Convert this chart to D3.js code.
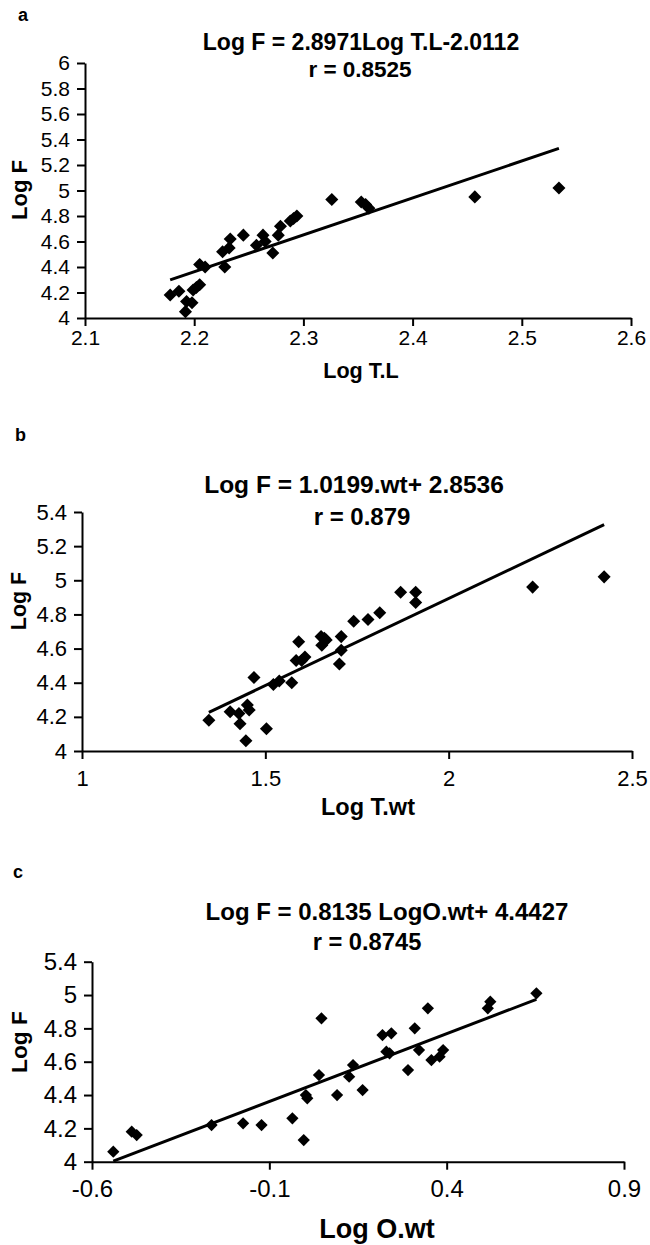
<!DOCTYPE html>
<html>
<head>
<meta charset="utf-8">
<script src="https://cdn.jsdelivr.net/npm/d3@7"></script>
<style>
  body { margin: 0; background: #fff; }
  svg { display: block; font-family: "Liberation Sans", Arial, sans-serif; }
</style>
</head>
<body>
<svg id="chart" width="650" height="1245"></svg>
<script>
// ---------- DATA ----------
// a: Log T.L vs Log F
const aLogTL = [2.178, 2.186, 2.193, 2.192, 2.198, 2.199, 2.202, 2.205, 2.205, 2.21,
                2.228, 2.226, 2.232, 2.233, 2.245, 2.257, 2.263, 2.265, 2.272, 2.277,
                2.279, 2.288, 2.291, 2.294, 2.326, 2.353, 2.357, 2.360, 2.457, 2.534];
const aLogF  = [4.18, 4.21, 4.13, 4.05, 4.12, 4.22, 4.24, 4.26, 4.42, 4.40,
                4.40, 4.52, 4.55, 4.62, 4.65, 4.57, 4.65, 4.60, 4.51, 4.65,
                4.72, 4.76, 4.78, 4.80, 4.93, 4.91, 4.89, 4.86, 4.95, 5.02];

// b: Log T.wt vs Log F
const bLogTwt = [1.346, 1.404, 1.428, 1.431, 1.447, 1.451, 1.456, 1.469, 1.503, 1.522,
                 1.538, 1.572, 1.584, 1.591, 1.599, 1.608, 1.652, 1.654, 1.666, 1.661,
                 1.707, 1.707, 1.702, 1.741, 1.780, 1.812, 1.869, 1.910, 1.910, 2.229, 2.424];
const bLogF   = [4.18, 4.23, 4.22, 4.16, 4.06, 4.27, 4.24, 4.43, 4.13, 4.39,
                 4.41, 4.40, 4.53, 4.64, 4.53, 4.55, 4.67, 4.62, 4.65, 4.66,
                 4.67, 4.59, 4.51, 4.76, 4.77, 4.81, 4.93, 4.93, 4.87, 4.96, 5.02];

// c: Log O.wt vs Log F
const cLogOwt = [-0.540, -0.488, -0.474, -0.263, -0.174, -0.122, -0.035, -0.003, 0.003, 0.007,
                 0.040, 0.047, 0.091, 0.125, 0.136, 0.163, 0.219, 0.244, 0.230, 0.239,
                 0.291, 0.310, 0.322, 0.347, 0.357, 0.380, 0.390, 0.516, 0.523, 0.653];
const cLogF   = [4.06, 4.18, 4.16, 4.22, 4.23, 4.22, 4.26, 4.13, 4.40, 4.38,
                 4.52, 4.86, 4.40, 4.51, 4.58, 4.43, 4.76, 4.77, 4.66, 4.65,
                 4.55, 4.80, 4.67, 4.92, 4.61, 4.63, 4.67, 4.92, 4.96, 5.01];

// fitted lines: Log F = slope * x + intercept
const fitSlope     = [2.8971, 1.0199, 0.8135];
const fitIntercept = [-2.0112, 2.8536, 4.4427];

const panelTags   = ["a", "b", "c"];
const equations   = ["Log F = 2.8971Log T.L-2.0112", "Log F = 1.0199.wt+ 2.8536", "Log F = 0.8135 LogO.wt+ 4.4427"];
const rValues     = ["r = 0.8525", "r = 0.879", "r = 0.8745"];
const xTitles     = ["Log T.L", "Log T.wt", "Log O.wt"];
const yTitle      = "Log F";

// ticks
const aXTicks = [2.1, 2.2, 2.3, 2.4, 2.5, 2.6];
const aYTicks = [4, 4.2, 4.4, 4.6, 4.8, 5, 5.2, 5.4, 5.6, 5.8, 6];
const bXTicks = [1, 1.5, 2, 2.5];
const bYTicks = [4, 4.2, 4.4, 4.6, 4.8, 5, 5.2, 5.4];
const cXTicks = [-0.6, -0.1, 0.4, 0.9];
const cYTicks = [4, 4.2, 4.4, 4.6, 4.8, 5, 5.2];
const cYTickLabels = ["4", "4.2", "4.4", "4.6", "4.8", "5", "5.4"];

// ---------- LAYOUT ----------
const panels = [
  { xs: aLogTL, ys: aLogF, xDomain: [2.1, 2.6], yDomain: [4, 6],
    xRange: [85, 631], yRange: [318, 63],
    xTicks: aXTicks, yTicks: aYTicks, yLabels: aYTicks.map(String),
    tickFont: 21, xPad: 4, marker: 85,
    tag: [18, 21], eq: [361, 50, 23], r: [360, 77, 22.5],
    xTitle: [361, 378, 21.6], yTitle: [27, 190, 22] },
  { xs: bLogTwt, ys: bLogF, xDomain: [1, 2.5], yDomain: [4, 5.4],
    xRange: [82, 632], yRange: [751, 512],
    xTicks: bXTicks, yTicks: bYTicks, yLabels: bYTicks.map(String),
    tickFont: 22, xPad: 11, marker: 85,
    tag: [15, 441], eq: [354, 493, 24.5], r: [362, 525, 24],
    xTitle: [368, 815, 23.5], yTitle: [26, 601, 21.5] },
  { xs: cLogOwt, ys: cLogF, xDomain: [-0.6, 0.9], yDomain: [4, 5.2],
    xRange: [92, 624], yRange: [1161.7, 961.7],
    xTicks: cXTicks, yTicks: cYTicks, yLabels: cYTickLabels,
    tickFont: 24, xPad: 10, marker: 75,
    tag: [13, 878], eq: [387, 920, 24], r: [367, 950, 23.7],
    xTitle: [377, 1238, 27], yTitle: [27, 1042, 22.7] }
];

const svg = d3.select("#chart");

panels.forEach((p, i) => {
  const g = svg.append("g");

  const x = d3.scaleLinear().domain(p.xDomain).range(p.xRange);
  const y = d3.scaleLinear().domain(p.yDomain).range(p.yRange);

  // ---------- AXES ----------
  const xAxis = d3.axisBottom(x)
    .tickValues(p.xTicks)
    .tickFormat(String)
    .tickSize(8)
    .tickSizeOuter(0)
    .tickPadding(p.xPad);

  const yAxis = d3.axisLeft(y)
    .tickValues(p.yTicks)
    .tickFormat((d, k) => p.yLabels[k])
    .tickSize(8)
    .tickSizeOuter(0)
    .tickPadding(7);

  g.append("g")
    .attr("transform", `translate(0,${p.yRange[0]})`)
    .call(xAxis)
    .call(s => s.selectAll("path, line").attr("stroke", "#000").attr("stroke-width", 2))
    .call(s => s.selectAll("text").attr("fill", "#000").style("font-size", p.tickFont + "px")
      .style("font-family", '"Liberation Sans", Arial, sans-serif'));

  g.append("g")
    .attr("transform", `translate(${p.xRange[0]},0)`)
    .call(yAxis)
    .call(s => s.selectAll("path, line").attr("stroke", "#000").attr("stroke-width", 2))
    .call(s => s.selectAll("text").attr("fill", "#000").style("font-size", p.tickFont + "px")
      .style("font-family", '"Liberation Sans", Arial, sans-serif'));

  // ---------- FIT LINE ----------
  const ext = d3.extent(p.xs);
  const fit = ext.map(v => [v, fitSlope[i] * v + fitIntercept[i]]);
  g.append("path")
    .datum(fit)
    .attr("fill", "none")
    .attr("stroke", "#000")
    .attr("stroke-width", 3)
    .attr("d", d3.line().x(d => x(d[0])).y(d => y(d[1])));

  // ---------- POINTS ----------
  const diamond = d3.symbol().type(d3.symbolSquare).size(p.marker);
  g.append("g")
    .selectAll("path")
    .data(p.xs.map((v, k) => [v, p.ys[k]]))
    .enter()
    .append("path")
    .attr("d", diamond)
    .attr("fill", "#000")
    .attr("transform", d => `translate(${x(d[0])},${y(d[1])}) rotate(45)`);

  // ---------- TEXT ----------
  g.append("text")
    .attr("x", p.tag[0]).attr("y", p.tag[1])
    .style("font-size", "18px").style("font-weight", "bold")
    .text(panelTags[i]);

  g.append("text")
    .attr("x", p.eq[0]).attr("y", p.eq[1])
    .attr("text-anchor", "middle")
    .style("font-size", p.eq[2] + "px").style("font-weight", "bold")
    .text(equations[i]);

  g.append("text")
    .attr("x", p.r[0]).attr("y", p.r[1])
    .attr("text-anchor", "middle")
    .style("font-size", p.r[2] + "px").style("font-weight", "bold")
    .text(rValues[i]);

  g.append("text")
    .attr("x", p.xTitle[0]).attr("y", p.xTitle[1])
    .attr("text-anchor", "middle")
    .style("font-size", p.xTitle[2] + "px").style("font-weight", "bold")
    .text(xTitles[i]);

  g.append("text")
    .attr("transform", `translate(${p.yTitle[0]},${p.yTitle[1]}) rotate(-90)`)
    .attr("text-anchor", "middle")
    .style("font-size", p.yTitle[2] + "px").style("font-weight", "bold")
    .text(yTitle);
});
</script>
</body>
</html>
